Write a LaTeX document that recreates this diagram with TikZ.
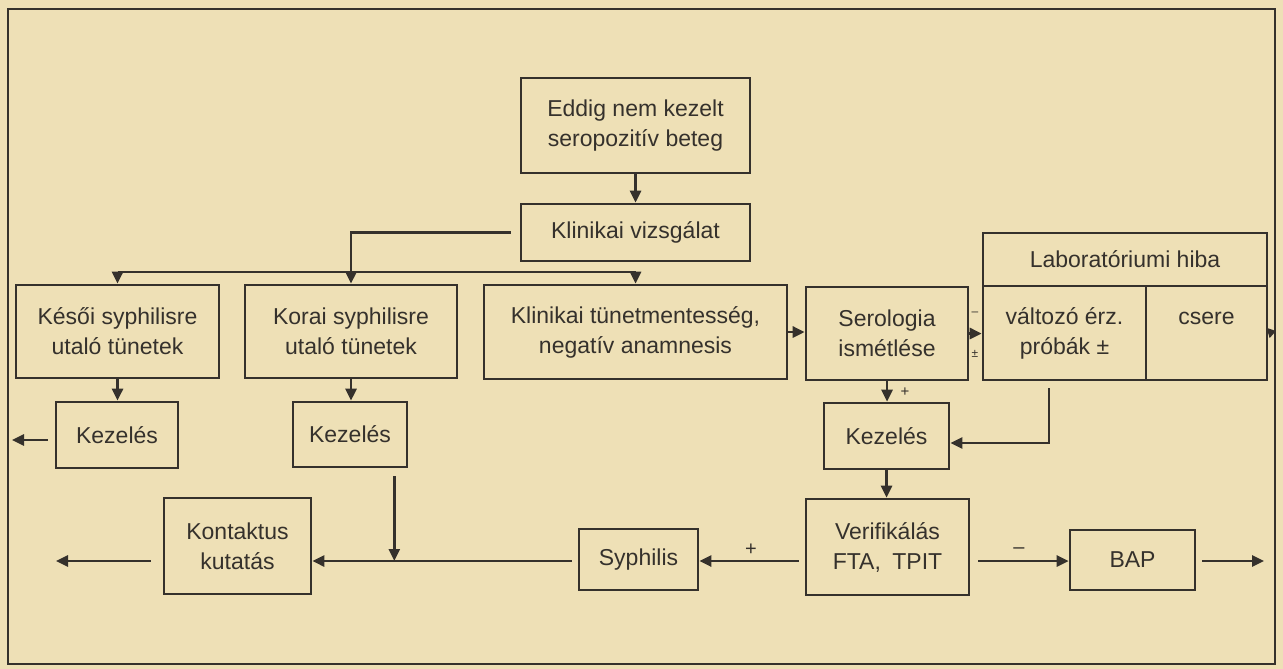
\documentclass[tikz,border=0pt]{standalone}
\usepackage{fontspec}
\setmainfont{Liberation Sans}
\usetikzlibrary{positioning,arrows.meta}
\definecolor{paper}{HTML}{EEE0B6}
\definecolor{ink}{HTML}{35312C}

\begin{document}
\begin{tikzpicture}[x=1pt,y=-1pt,
  box/.style={draw=ink,line width=2.6pt,inner sep=0pt,align=center,text=ink,
    font=\fontsize{23}{30}\selectfont},
  arr/.style={draw=ink,line width=2.6pt,-{Triangle[length=12pt,width=11pt]}},
  sign/.style={text=ink,inner sep=0pt,font=\fontsize{20}{20}\selectfont}]
\fill[paper] (0,0) rectangle (1283,669);
\draw[ink,line width=2.2pt] (8,9) rectangle (1275,664);

% boxes
\node[box,minimum width=229pt,minimum height=95pt] (eddig) at (635.5,125.5) {Eddig nem kezelt\\seropozitív beteg};
\node[box,minimum width=229pt,minimum height=57pt] (klin) at (635.5,232.5) {Klinikai vizsgálat};
\node[box,minimum width=203pt,minimum height=93pt] (kesoi) at (117.5,331.5) {Késői syphilisre\\utaló tünetek};
\node[box,minimum width=212pt,minimum height=93pt] (korai) at (351,331.5) {Korai syphilisre\\utaló tünetek};
\node[box,minimum width=303pt,minimum height=94pt] (tunet) at (635.5,332) {Klinikai tünetmentesség,\\negatív anamnesis};
\node[box,minimum width=162pt,minimum height=93pt] (sero) at (887,333.5) {Serologia\\ismétlése};
\node[box,minimum width=284pt,minimum height=53pt] (labtop) at (1125,259.5) {Laboratóriumi hiba};
\node[box,minimum width=163pt,minimum height=94pt] (labl) at (1064.5,333) {változó érz.\\próbák ±};
\node[box,minimum width=121pt,minimum height=94pt] (labr) at (1206.5,333) {csere\\\mbox{}};
\node[box,minimum width=122pt,minimum height=66pt] (kez1) at (117,435) {Kezelés};
\node[box,minimum width=114pt,minimum height=65pt] (kez2) at (350,434.5) {Kezelés};
\node[box,minimum width=125pt,minimum height=66pt] (kez3) at (886.5,436) {Kezelés};
\node[box,minimum width=147pt,minimum height=96pt] (kontakt) at (237.5,546) {Kontaktus\\kutatás};
\node[box,minimum width=119pt,minimum height=61pt] (syph) at (638.5,559.5) {Syphilis};
\node[box,minimum width=163pt,minimum height=96pt] (verif) at (887.5,547) {Verifikálás\\FTA,\enspace TPIT};
\node[box,minimum width=125pt,minimum height=60pt] (bap) at (1132.5,560) {BAP};

% free ends
\coordinate (bus) at (0,272);
\coordinate (main) at (0,561);
\coordinate (labout) at (1276,331);
\coordinate (kezout) at (12,440);
\coordinate (kontout) at (56,561);
\coordinate (bapout) at (1264,561);
\coordinate (drop) at ([xshift=-14pt,yshift=-8pt]kez2.south east);
\coordinate (labdrop) at (1049,388);

% connectors
\draw[arr] (eddig.south) -- (klin.north);
\draw[arr] ([xshift=-9pt]klin.west) -| (korai.north);
\draw[ink,line width=2.6pt] (bus -| kesoi.north) -- (bus -| tunet.north);
\draw[arr] (bus -| kesoi.north) -- (kesoi.north);
\draw[arr] (bus -| tunet.north) -- (tunet.north);
\draw[arr] (tunet.east) -- (tunet.east -| sero.west);
\draw[arr] (sero.east) -- (sero.east -| labl.west);
\node[sign,font=\fontsize{12}{12}\selectfont] at (975,314) {–};
\node[sign,font=\fontsize{12}{12}\selectfont] at (975,354) {±};
\draw[draw=ink,line width=2.6pt,-{Triangle[length=8pt,width=10pt]}] (labr.east) -- (labout);
\draw[arr] (kesoi.south) -- (kesoi.south |- kez1.north);
\draw[arr,shorten <=7pt] (kez1.west |- kezout) -- (kezout);
\draw[arr] (korai.south) -- (korai.south |- kez2.north);
\draw[arr] (drop) -- (drop |- main);
\draw[arr] (sero.south) -- (sero.south |- kez3.north);
\node[sign,font=\fontsize{15}{15}\selectfont] at (905,392) {+};
\draw[arr] (labdrop) |- ([yshift=-7pt]kez3.east);
\draw[arr] (kez3.south) -- (kez3.south |- verif.north);
\draw[arr,shorten <=6pt] (verif.west |- main) -- (syph.east |- main);
\node[sign] at (751,550) {+};
\draw[arr,shorten <=8pt] (verif.east |- main) -- (bap.west |- main);
\node[sign] at (1019,551) {–};
\draw[arr,shorten <=6pt] (bap.east |- main) -- (bapout);
\draw[arr,shorten <=6pt] (syph.west |- main) -- (kontakt.east |- main);
\draw[arr,shorten <=12pt] (kontakt.west |- main) -- (kontout);
\end{tikzpicture}
\end{document}
